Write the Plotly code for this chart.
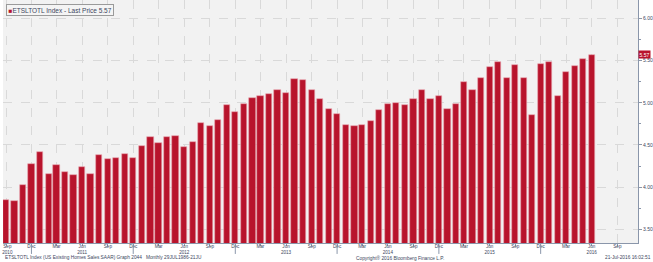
import pandas as pd
import plotly.graph_objects as go

# ---- data ----
months = pd.date_range("2010-09-01", periods=70, freq="MS")
sales = [3.85, 3.84, 4.02, 4.27, 4.42, 4.16, 4.26, 4.18, 4.14, 4.24,
         4.16, 4.38, 4.33, 4.34, 4.39, 4.35, 4.49, 4.59, 4.52, 4.59,
         4.61, 4.48, 4.53, 4.76, 4.72, 4.80, 4.97, 4.89, 4.99, 5.06,
         5.08, 5.10, 5.15, 5.12, 5.28, 5.27, 5.15, 5.04, 4.93, 4.87,
         4.74, 4.72, 4.74, 4.78, 4.91, 4.98, 5.00, 4.97, 5.04, 5.15,
         5.04, 5.08, 4.93, 4.98, 5.25, 5.15, 5.29, 5.42, 5.48, 5.29,
         5.45, 5.29, 4.86, 5.46, 5.48, 5.08, 5.37, 5.44, 5.52, 5.57]
last_price = sales[-1]
tick_dates = pd.date_range("2010-09-01", "2016-09-01", freq="3MS")
tick_labels = []
for i, d in enumerate(tick_dates):
    lab = d.strftime("%b")
    if d.month == 6 or i == 0:
        lab += "<br>" + str(d.year)
    if i == 0:
        lab = "\u00a0\u00a0Sep<br>\u00a0\u00a0" + str(d.year)
    tick_labels.append(lab)
year_marks = [d for d in tick_dates if d.month == 12]

RED = "#b8142c"
TXT = "#3c4660"
FONT = "Liberation Sans"

fig = go.Figure()
fig.add_trace(go.Bar(
    x=months, y=sales,
    width=22.5 * 86400000,
    marker=dict(color=RED, line=dict(color="#e7a3ad", width=0.6)),
    showlegend=False,
))

shapes = []
for d in year_marks:
    shapes.append(dict(type="line", xref="x", yref="paper", x0=d, x1=d,
                       y0=0, y1=-0.045, line=dict(color="#8a96aa", width=1)))

FOOT_Y = -0.0605
fig.update_layout(
    width=653, height=262,
    margin=dict(l=0, r=15, t=0, b=19),
    paper_bgcolor="white",
    plot_bgcolor="#f2f2f2",
    font=dict(family=FONT, size=5, color=TXT),
    bargap=0,
    shapes=shapes,
    xaxis=dict(
        type="date",
        range=["2010-08-21", "2016-11-14"],
        tickvals=tick_dates, ticktext=tick_labels,
        showgrid=True, gridcolor="#d9d9d9", griddash="dash", gridwidth=1,
        showline=True, linecolor="#8a96aa", linewidth=1,
        ticks="outside", ticklen=2, tickcolor="#8a96aa",
        ticklabelstandoff=-4,
        ticklabeloverflow="allow",
        tickfont=dict(size=4.6, color=TXT, family=FONT),
        zeroline=False,
    ),
    yaxis=dict(
        side="right",
        range=[3.338, 6.218],
        tick0=3.5, dtick=0.5, tickformat=".2f",
        showgrid=True, gridcolor="#d9d9d9", griddash="dash", gridwidth=1,
        showline=True, linecolor="#8a96aa", linewidth=1,
        ticks="outside", ticklen=3, tickcolor="#8a96aa",
        minor=dict(dtick=0.25, ticks="outside", ticklen=2, tickcolor="#8a96aa", showgrid=False),
        tickfont=dict(size=5, color=TXT, family=FONT),
        zeroline=False,
    ),
    annotations=[
        dict(xref="paper", yref="paper", x=0.004, y=0.985, xanchor="left", yanchor="top",
             text=f"<span style='color:{RED}'>■</span>ETSLTOTL Index - Last Price {last_price:.2f}",
             showarrow=False, font=dict(size=6.5, color=TXT, family=FONT),
             bgcolor="#f4f4f4", bordercolor="#9a9a9a", borderwidth=1, borderpad=1.5),
        dict(xref="paper", yref="y", x=1.0, y=last_price, xanchor="left", yanchor="middle",
             text=f"{last_price:.2f}", showarrow=False,
             font=dict(size=5, color="white", family=FONT),
             bgcolor=RED, borderpad=0.5),
        dict(xref="paper", yref="paper", x=0.0, y=FOOT_Y, xanchor="left", yanchor="middle",
             text="ETSLTOTL Index (US Existing Homes Sales SAAR) Graph 2044   Monthly 29JUL1986-21JU",
             showarrow=False, font=dict(size=4.8, color=TXT, family=FONT)),
        dict(xref="paper", yref="paper", x=0.552, y=FOOT_Y, xanchor="left", yanchor="middle",
             text="Copyright® 2016 Bloomberg Finance L.P.",
             showarrow=False, font=dict(size=4.8, color=TXT, family=FONT)),
        dict(xref="paper", yref="paper", x=1.023, y=FOOT_Y, xanchor="right", yanchor="middle",
             text="21-Jul-2016 16:02:51",
             showarrow=False, font=dict(size=4.8, color=TXT, family=FONT)),
    ],
)

fig.write_html("out.html")
